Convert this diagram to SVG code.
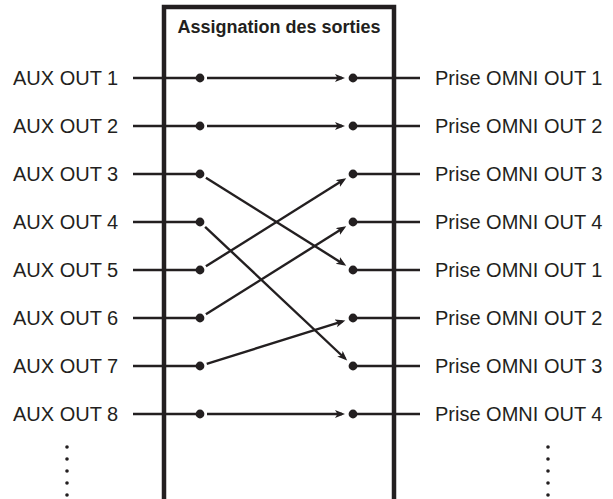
<svg xmlns="http://www.w3.org/2000/svg" width="613" height="499" viewBox="0 0 613 499">
<style>
.lbl{font-family:"Liberation Sans",Arial,sans-serif;font-size:20px;fill:#231f20}
.ttl{font-family:"Liberation Sans",Arial,sans-serif;font-size:18px;font-weight:bold;fill:#231f20}
.w{stroke:#231f20;stroke-width:2.4;fill:none}
.a{stroke:#231f20;stroke-width:2.4;fill:none;marker-end:url(#ah)}
.dot{fill:#231f20}
.sd{fill:#231f20}
</style>
<defs>
<marker id="ah" markerUnits="userSpaceOnUse" markerWidth="11" markerHeight="9" refX="7" refY="4" orient="auto">
<path d="M0,0 L10,4 L0,8 L2.5,4 z" fill="#231f20"/>
</marker>
</defs>
<rect width="613" height="499" fill="#fff"/>
<g id="box">
<rect x="164" y="7" width="230" height="510" fill="#fff" stroke="#231f20" stroke-width="4.5"/>
<text class="ttl" x="279" y="33" text-anchor="middle">Assignation des sorties</text>
</g>
<g id="connectors">
<path class="w" d="M133,78H200M133,126H200M133,174H200M133,222H200M133,270H200M133,318H200M133,366H200M133,414H200"/>
<path class="w" d="M353,78H420M353,126H420M353,174H420M353,222H420M353,270H420M353,318H420M353,366H420M353,414H420"/>
<line class="a" x1="207" y1="78" x2="342" y2="78"/>
<line class="a" x1="207" y1="126" x2="342" y2="126"/>
<line class="a" x1="205.9" y1="177.7" x2="343.7" y2="264.2"/>
<line class="a" x1="205.1" y1="226.8" x2="345.0" y2="358.5"/>
<line class="a" x1="205.9" y1="266.3" x2="343.7" y2="179.8"/>
<line class="a" x1="205.9" y1="314.3" x2="343.7" y2="227.8"/>
<line class="a" x1="206.7" y1="363.9" x2="342.5" y2="321.3"/>
<line class="a" x1="207" y1="414" x2="342" y2="414"/>
</g>
<g id="inputs">
<text class="lbl" x="13" y="85">AUX OUT 1</text>
<text class="lbl" x="13" y="133">AUX OUT 2</text>
<text class="lbl" x="13" y="181">AUX OUT 3</text>
<text class="lbl" x="13" y="229">AUX OUT 4</text>
<text class="lbl" x="13" y="277">AUX OUT 5</text>
<text class="lbl" x="13" y="325">AUX OUT 6</text>
<text class="lbl" x="13" y="373">AUX OUT 7</text>
<text class="lbl" x="13" y="421">AUX OUT 8</text>
<g class="sd"><circle cx="67" cy="447" r="1.8"/><circle cx="67" cy="459" r="1.8"/><circle cx="67" cy="471" r="1.8"/><circle cx="67" cy="483" r="1.8"/><circle cx="67" cy="495" r="1.8"/></g>
</g>
<g id="outputs">
<text class="lbl" x="435" y="85">Prise OMNI OUT 1</text>
<text class="lbl" x="435" y="133">Prise OMNI OUT 2</text>
<text class="lbl" x="435" y="181">Prise OMNI OUT 3</text>
<text class="lbl" x="435" y="229">Prise OMNI OUT 4</text>
<text class="lbl" x="435" y="277">Prise OMNI OUT 1</text>
<text class="lbl" x="435" y="325">Prise OMNI OUT 2</text>
<text class="lbl" x="435" y="373">Prise OMNI OUT 3</text>
<text class="lbl" x="435" y="421">Prise OMNI OUT 4</text>
<g class="sd"><circle cx="548" cy="447" r="1.8"/><circle cx="548" cy="459" r="1.8"/><circle cx="548" cy="471" r="1.8"/><circle cx="548" cy="483" r="1.8"/><circle cx="548" cy="495" r="1.8"/></g>
</g>
<g id="left-dots" class="dot">
<circle cx="200" cy="78" r="4.4"/><circle cx="200" cy="126" r="4.4"/><circle cx="200" cy="174" r="4.4"/><circle cx="200" cy="222" r="4.4"/><circle cx="200" cy="270" r="4.4"/><circle cx="200" cy="318" r="4.4"/><circle cx="200" cy="366" r="4.4"/><circle cx="200" cy="414" r="4.4"/>
</g>
<g id="right-dots" class="dot">
<circle cx="353" cy="78" r="4.4"/><circle cx="353" cy="126" r="4.4"/><circle cx="353" cy="174" r="4.4"/><circle cx="353" cy="222" r="4.4"/><circle cx="353" cy="270" r="4.4"/><circle cx="353" cy="318" r="4.4"/><circle cx="353" cy="366" r="4.4"/><circle cx="353" cy="414" r="4.4"/>
</g>
</svg>
